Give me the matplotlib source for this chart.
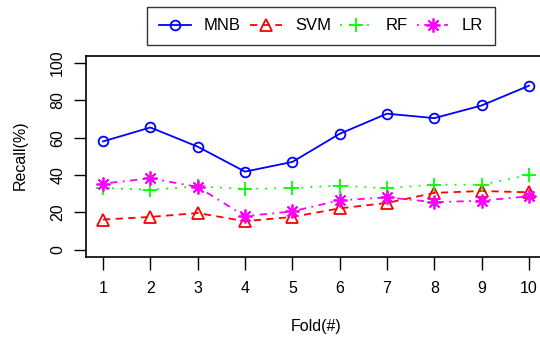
import matplotlib
matplotlib.use("Agg")
import matplotlib.pyplot as plt

plt.rcParams['font.family'] = ['Liberation Sans', 'DejaVu Sans']

folds = [1, 2, 3, 4, 5, 6, 7, 8, 9, 10]
mnb = [58.0, 65.5, 55.2, 41.8, 47.0, 62.1, 72.9, 70.5, 77.3, 87.9]
svm = [16.1, 17.5, 19.6, 15.2, 17.5, 22.1, 25.0, 30.4, 31.4, 30.7]
rf = [33.0, 32.1, 33.9, 32.5, 33.0, 34.3, 32.9, 34.8, 34.8, 40.0]
lr = [35.4, 38.2, 33.6, 17.9, 20.5, 26.4, 28.0, 25.4, 26.2, 28.6]
yticks = [0, 20, 40, 60, 80, 100]

fig = plt.figure(figsize=(5.4, 3.39), dpi=100)
ax = fig.add_axes([86/540, (339-257)/339, (546-86)/540, (257-55.7)/339])

ax.plot(folds, mnb, color='#0000ff', linestyle='-', lw=1.3, marker='o', ms=7,
        mfc='none', mew=1.3, label='MNB')
ax.plot(folds, svm, color='#ff0000', linestyle=(0, (4, 3)), lw=1.3, marker='^', ms=8,
        mfc='none', mew=1.3, label='SVM')
ax.plot(folds, rf, color='#00ff00', linestyle=(0, (1, 4)), lw=1.3, marker='+', ms=10,
        mew=1.3, label='RF')
ax.plot(folds, lr, color='#ff00ff', linestyle=(0, (1, 3, 4, 3)), lw=1.3, marker=(8, 2, 0), ms=10,
        mew=1.3, label='LR')

ax.set_xlim(0.64, 10.36)
ax.set_ylim(-4, 104)
ax.set_xticks(folds)
ax.set_yticks(yticks)
ax.set_yticklabels([str(v) for v in yticks], rotation=90, va='center')
ax.tick_params(axis='both', direction='out', length=9, width=1, labelsize=11.5, pad=8)
ax.tick_params(axis='y', pad=6)
for s in ax.spines.values():
    s.set_linewidth(1.2)

fig.text(316/540, 1 - 326/339, 'Fold(#)', ha='center', va='center', fontsize=11.5)
fig.text(20/540, 1 - 155/339, 'Recall(%)', ha='center', va='center', rotation=90, fontsize=11.5)

leg = fig.legend(loc='center', bbox_to_anchor=(321/540, 1 - 26/339), ncol=4,
                 frameon=True, fancybox=False, edgecolor='black', fontsize=12,
                 handlelength=1.9, handletextpad=0.8, columnspacing=0.55,
                 borderpad=0.7, borderaxespad=0)
leg.get_frame().set_linewidth(1.0)

fig.savefig('out.png', dpi=100)
